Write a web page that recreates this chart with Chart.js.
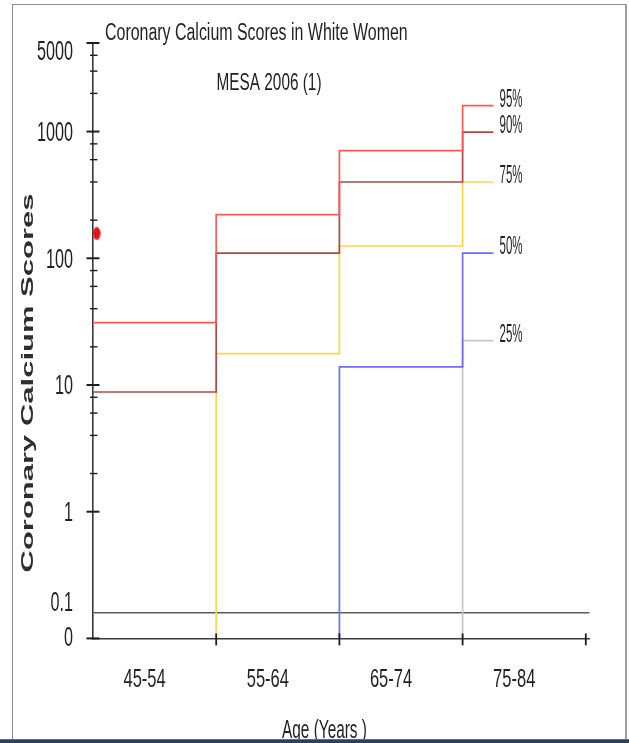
<!DOCTYPE html>
<html><head><meta charset="utf-8">
<script src="https://cdn.jsdelivr.net/npm/chart.js@4.4.1/dist/chart.umd.min.js"></script>
<style>
html,body{margin:0;padding:0;background:#fff;overflow:hidden;}
#wrap{position:relative;width:629px;height:743px;background:#fff;}
#c{position:absolute;left:0;top:0;}
#frame{position:absolute;left:12px;top:4px;width:615px;height:760px;border-left:1.5px solid #8c8c8c;border-top:1.5px solid #8c8c8c;border-right:2px solid #a0a0a0;box-sizing:border-box;pointer-events:none;}
#bar{position:absolute;left:0;top:739px;width:629px;height:4px;background:#2d3f5b;border-top:1px solid #5a6c88;box-sizing:border-box;}
</style></head><body>
<div id="wrap"><canvas id="c" width="629" height="743"></canvas><div id="frame"></div><div id="bar"></div></div>
<script>
// ---- data ----
const ageGroups = ['45-54', '55-64', '65-74', '75-84'];
const p95 = [31, 221, 707, 1600];
const p90 = [8.8, 110, 400, 990];
const p75 = [0, 17.7, 125, 400];
const p50 = [0, 0, 13.9, 110];
const p25 = [0, 0, 0, 22.4];
const percentileNames = ['95%', '90%', '75%', '50%', '25%'];
const yTickValues = [0.1, 0.158, 1, 10, 100, 1000, 5000];
const yTickLabels = ['0', '0.1', '1', '10', '100', '1000', '5000'];
const yMinorTickValues = [2, 4, 6, 8, 20, 40, 60, 80, 200, 400, 600, 800, 2000, 3000, 4000];
const patientAge = [0.03];
const patientScore = [157];
const chartTitle = 'Coronary Calcium Scores in White Women';
const chartSubtitle = 'MESA 2006 (1)';
const yAxisTitle = 'Coronary Calcium Scores';
const xAxisTitle = 'Age (Years )';

const Y_FLOOR = yTickValues[0];      // "0" on the log axis
const STEP_END = 3.25;               // last step stops short of the label

function stepPoints(vals) {
  const pts = [];
  vals.forEach((v, i) => {
    if (v > 0) {
      if (pts.length === 0 && i > 0) pts.push({x: i, y: Y_FLOOR});
      pts.push({x: i, y: v});
    }
  });
  pts.push({x: STEP_END, y: vals[vals.length - 1]});
  return pts;
}

const series = [p95, p90, p75, p50, p25];
const colors = ['#ff5858', '#b04848', '#ffd54a', '#6c6cff', '#c6c6c6'];

const dot = document.createElement('canvas');
dot.width = 8; dot.height = 14;
(function(){ const d = dot.getContext('2d'); d.fillStyle = '#e81414'; d.beginPath(); d.ellipse(4, 7, 3.7, 6.5, 0, 0, Math.PI * 2); d.fill(); })();

const datasets = series.map((s, i) => ({
  label: percentileNames[i],
  data: stepPoints(s),
  borderColor: colors[i],
  borderWidth: 1.7,
  stepped: 'before',
  pointRadius: 0,
  fill: false,
  clip: false
}));
datasets.push({
  label: 'patient',
  data: patientAge.map((a, i) => ({x: a, y: patientScore[i]})),
  showLine: false,
  pointStyle: dot,
  pointRadius: 5,
  clip: false
});

function drawText(ctx, txt, x, y, font, sx, align, color) {
  ctx.save();
  ctx.translate(x, y);
  ctx.scale(sx, 1);
  ctx.font = font;
  ctx.textAlign = align;
  ctx.textBaseline = 'alphabetic';
  ctx.fillStyle = color;
  ctx.fillText(txt, 0, 0);
  ctx.restore();
}

const decor = {
  id: 'decor',
  afterDraw(chart) {
    const {ctx, chartArea, scales: {x, y}} = chart;
    const L = chartArea.left, B = chartArea.bottom;
    ctx.save();
    ctx.strokeStyle = '#1e1e1e';
    // y tick marks
    yTickValues.forEach((v, i) => {
      if (i === 1) return;
      const py = y.getPixelForValue(v);
      ctx.lineWidth = 2;
      ctx.beginPath(); ctx.moveTo(L - 6.5, py); ctx.lineTo(L + 6.5, py); ctx.stroke();
    });
    yMinorTickValues.forEach(v => {
      const py = y.getPixelForValue(v);
      ctx.lineWidth = 1.4;
      ctx.beginPath(); ctx.moveTo(L - 3, py); ctx.lineTo(L + 4.5, py); ctx.stroke();
    });
    // x tick marks
    x.ticks.forEach(t => {
      if (t.value === 0) return;
      const px = x.getPixelForValue(t.value);
      ctx.lineWidth = 1.8;
      ctx.beginPath(); ctx.moveTo(px, B - 5); ctx.lineTo(px, B + 7); ctx.stroke();
    });
    const txtCol = '#1f1f24';
    // y tick labels
    yTickValues.forEach((v, i) => {
      const py = y.getPixelForValue(v);
      let by = py + 9.5;
      if (v === y.max) by = py + 17;
      if (i === 1) by = py - 2;
      if (i === 0) by = py + 7.5;
      drawText(ctx, yTickLabels[i], L - 20, by, '27px "Liberation Sans", Arial, sans-serif', 0.6, 'right', txtCol);
    });
    // x tick labels
    ageGroups.forEach((g, i) => {
      const px = x.getPixelForValue(i + 0.5) - 10;
      drawText(ctx, g, px, B + 49, '25px "Liberation Sans", Arial, sans-serif', 0.66, 'center', txtCol);
    });
    // percentile labels at the end of each step line
    series.forEach((s, i) => {
      const py = y.getPixelForValue(s[s.length - 1]);
      const px = x.getPixelForValue(STEP_END + 0.05);
      drawText(ctx, percentileNames[i], px, py + 1, '25px "Liberation Sans", Arial, sans-serif', 0.46, 'left', txtCol);
    });
    // titles
    drawText(ctx, chartTitle, 105, 40, '23px "Liberation Sans", Arial, sans-serif', 0.693, 'left', txtCol);
    drawText(ctx, chartSubtitle, 269, 89.5, '24px "Liberation Sans", Arial, sans-serif', 0.64, 'center', txtCol);
    drawText(ctx, xAxisTitle, 324.5, 738, '25px "Liberation Sans", Arial, sans-serif', 0.615, 'center', txtCol);
    // rotated y axis title
    ctx.save();
    ctx.translate(33.3, 383);
    ctx.rotate(-Math.PI / 2);
    ctx.scale(1, 0.554);
    ctx.font = 'bold 31px "Liberation Sans", Arial, sans-serif';
    ctx.textAlign = 'center';
    ctx.textBaseline = 'alphabetic';
    ctx.fillStyle = '#2e2e2e';
    ctx.fillText(yAxisTitle, 0, 0);
    ctx.restore();
    ctx.restore();
  }
};

new Chart(document.getElementById('c'), {
  type: 'line',
  data: {datasets},
  options: {
    responsive: false,
    animation: false,
    events: [],
    devicePixelRatio: 1,
    layout: {padding: {left: 93, right: 39.5, top: 43, bottom: 104.6}},
    plugins: {legend: {display: false}, tooltip: {enabled: false}, title: {display: false}},
    scales: {
      x: {
        type: 'linear', min: 0, max: 4.03,
        afterBuildTicks: s => { s.ticks = [0, 1, 2, 3, 4].map(v => ({value: v})); },
        ticks: {display: false},
        grid: {display: false, drawTicks: false},
        border: {display: true, color: '#3a3a3a', width: 1.6}
      },
      y: {
        type: 'logarithmic', min: Y_FLOOR, max: 5000,
        afterBuildTicks: s => { s.ticks = yTickValues.concat(yMinorTickValues).map(v => ({value: v})); },
        ticks: {display: false},
        grid: {
          display: true, drawTicks: false, lineWidth: 1.6,
          color: c => (c.tick && c.tick.value === yTickValues[1]) ? '#5c5c5c' : 'rgba(0,0,0,0)'
        },
        border: {display: true, color: '#3a3a3a', width: 1.6}
      }
    }
  },
  plugins: [decor]
});
</script>
</body></html>
